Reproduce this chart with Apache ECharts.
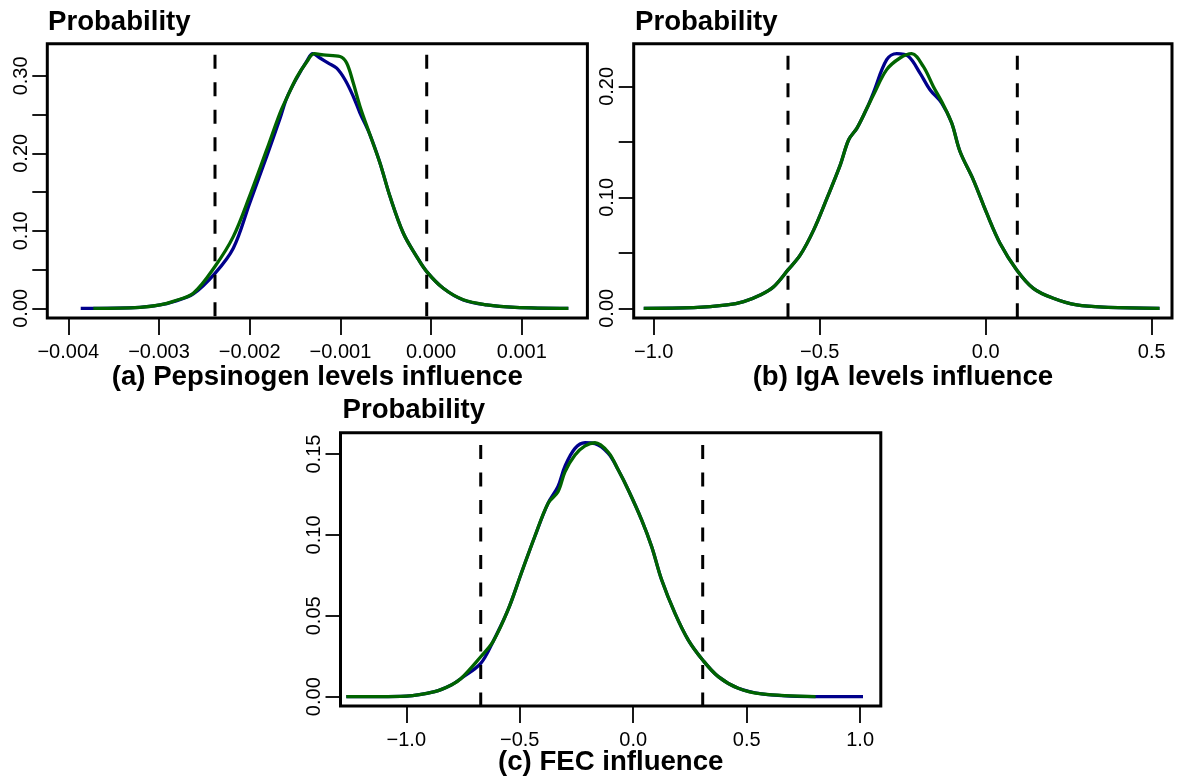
<!DOCTYPE html>
<html><head><meta charset="utf-8">
<script src="https://cdn.jsdelivr.net/npm/echarts@6/dist/echarts.min.js"></script>
<style>html,body{margin:0;padding:0;background:#fff}#c{width:1182px;height:780px}</style>
</head><body><div id="c"></div>
<script>
// ---------- Panel (a): Pepsinogen levels influence ----------
const xTicksA = [-0.004, -0.003, -0.002, -0.001, 0, 0.001];
const yTicksA = [0, 0.05, 0.10, 0.15, 0.20, 0.25, 0.30];
const yLabelsA = [0, 0.10, 0.20, 0.30];
const blueA = [
  [-0.003863, 0], [-0.00321, 0.0013], [-0.002989, 0.0043], [-0.002842, 0.0085],
  [-0.002622, 0.0185], [-0.002383, 0.045], [-0.002181, 0.0775], [-0.002, 0.1357],
  [-0.001813, 0.196], [-0.001666, 0.245], [-0.001592, 0.2713], [-0.001482, 0.297],
  [-0.001372, 0.3186], [-0.001305, 0.3286], [-0.001225, 0.323], [-0.001133, 0.3165],
  [-0.001041, 0.310], [-0.000949, 0.295], [-0.000858, 0.2734], [-0.000784, 0.252],
  [-0.000674, 0.2239], [-0.000563, 0.1873], [-0.000453, 0.1442], [-0.000306, 0.0969],
  [-0.000159, 0.0667], [-0.0000485, 0.0473], [0.000134, 0.0258], [0.000355, 0.0107],
  [0.000613, 0.0043], [0.000925, 0.0013], [0.001513, 0]
];
const greenA = [
  [-0.003724, 0], [-0.00321, 0.0013], [-0.002989, 0.0045], [-0.002842, 0.009],
  [-0.002622, 0.0195], [-0.002383, 0.054], [-0.002181, 0.0925], [-0.002, 0.145],
  [-0.001813, 0.2045], [-0.001666, 0.252], [-0.001592, 0.2713], [-0.001482, 0.298],
  [-0.001372, 0.318], [-0.001288, 0.3286], [-0.001188, 0.327], [-0.001004, 0.325],
  [-0.000931, 0.3165], [-0.000858, 0.2907], [-0.000784, 0.2605], [-0.000674, 0.2239],
  [-0.000563, 0.1873], [-0.000453, 0.1442], [-0.000306, 0.0969], [-0.000159, 0.0667],
  [-0.0000485, 0.0473], [0.000134, 0.0258], [0.000355, 0.011], [0.000613, 0.0045],
  [0.000925, 0.0013], [0.001513, 0]
];
const dashXA = [-0.0023826, -0.0000485];
const dashTopA = 0.3273;

// ---------- Panel (b): IgA levels influence ----------
const xTicksB = [-1.0, -0.5, 0.0, 0.5];
const yTicksB = [0, 0.05, 0.10, 0.15, 0.20];
const yLabelsB = [0, 0.10, 0.20];
const blueB = [
  [-1.030, 0], [-0.8795, 0.0006], [-0.779, 0.003], [-0.729, 0.006], [-0.679, 0.012],
  [-0.6386, 0.0195], [-0.5955, 0.0346], [-0.5584, 0.0481], [-0.518, 0.0707],
  [-0.478, 0.0993], [-0.438, 0.1293], [-0.4127, 0.1519], [-0.3877, 0.1624],
  [-0.3575, 0.1805], [-0.3386, 0.194], [-0.2982, 0.2241], [-0.268, 0.2295],
  [-0.2331, 0.2271], [-0.1979, 0.212], [-0.1678, 0.197], [-0.1325, 0.185],
  [-0.1024, 0.167], [-0.0774, 0.1413], [-0.0373, 0.1158], [0.003, 0.0857],
  [0.043, 0.0587], [0.0934, 0.0346], [0.1434, 0.018], [0.2036, 0.009],
  [0.274, 0.003], [0.3684, 0.0009], [0.5235, 0]
];
const greenB = [
  [-1.030, 0], [-0.8795, 0.0006], [-0.779, 0.003], [-0.729, 0.006], [-0.679, 0.012],
  [-0.6386, 0.0195], [-0.5955, 0.0346], [-0.5584, 0.0481], [-0.518, 0.0707],
  [-0.478, 0.0993], [-0.438, 0.1293], [-0.4127, 0.1519], [-0.3877, 0.1624],
  [-0.3575, 0.1805], [-0.3386, 0.192], [-0.2982, 0.2151], [-0.2581, 0.2256],
  [-0.2229, 0.2295], [-0.188, 0.218], [-0.1578, 0.2], [-0.1277, 0.1835],
  [-0.1024, 0.167], [-0.0774, 0.1413], [-0.0373, 0.1158], [0.003, 0.0857],
  [0.043, 0.0587], [0.0934, 0.0346], [0.1434, 0.018], [0.2036, 0.009],
  [0.274, 0.003], [0.3684, 0.0009], [0.5235, 0]
];
const dashXB = [-0.5955, 0.0952];
const dashTopB = 0.2277;

// ---------- Panel (c): FEC influence ----------
const xTicksC = [-1.0, -0.5, 0.0, 0.5, 1.0];
const yTicksC = [0, 0.05, 0.10, 0.15];
const yLabelsC = [0, 0.05, 0.10, 0.15];
const blueC = [
  [-1.2644, 0], [-1.0, 0.0004], [-0.875, 0.0031], [-0.8017, 0.0072], [-0.7576, 0.0114],
  [-0.672, 0.0206], [-0.6179, 0.034], [-0.5518, 0.0536], [-0.4932, 0.0763],
  [-0.4341, 0.0989], [-0.3755, 0.1195], [-0.3314, 0.130], [-0.3006, 0.1425],
  [-0.2565, 0.1535], [-0.2124, 0.157], [-0.1684, 0.1565], [-0.1097, 0.1504],
  [-0.0657, 0.1401], [-0.0216, 0.1278], [0.0375, 0.1092], [0.0815, 0.0927],
  [0.1256, 0.0721], [0.1842, 0.0515], [0.2428, 0.035], [0.3063, 0.0227],
  [0.375, 0.0124], [0.4632, 0.0052], [0.5663, 0.0017], [0.691, 0.0004], [1.0128, 0]
];
const greenC = [
  [-1.2644, 0], [-1.0, 0.0004], [-0.875, 0.0031], [-0.8017, 0.0072], [-0.7576, 0.0114],
  [-0.672, 0.0247], [-0.6179, 0.034], [-0.5518, 0.0536], [-0.4932, 0.0763],
  [-0.4341, 0.0989], [-0.3755, 0.1195], [-0.3314, 0.1267], [-0.3006, 0.139],
  [-0.2565, 0.1494], [-0.2124, 0.155], [-0.1684, 0.157], [-0.1097, 0.1511],
  [-0.0657, 0.1401], [-0.0216, 0.1278], [0.0375, 0.1092], [0.0815, 0.0927],
  [0.1256, 0.0721], [0.1842, 0.0515], [0.2428, 0.035], [0.3063, 0.0227],
  [0.375, 0.0124], [0.4632, 0.0052], [0.5663, 0.0017], [0.8039, 0]
];
const dashXC = [-0.672, 0.3063];
const dashTopC = 0.1556;

const panelTitles = ['(a) Pepsinogen levels influence', '(b) IgA levels influence', '(c) FEC influence'];
const yName = 'Probability';

// ---------- build ----------
const FONT = '"Liberation Sans", Arial, Helvetica, sans-serif';
const BLUE = '#00008B', GREEN = '#006400';

function fmt(d) {
  return function (v) {
    const s = Math.abs(v).toFixed(d);
    return (v < -1e-12 ? '\u2212' : '') + s;
  };
}

const panels = [
  { grid: { left: 47.3, top: 43.7, width: 540.1, height: 274.3 },
    xr: [-0.0042315, 0.001723], yr: [-0.01253, 0.3415],
    xt: xTicksA, yt: yTicksA, yl: yLabelsA, xd: 3,
    blue: blueA, green: greenA, dx: dashXA, dt: dashTopA },
  { grid: { left: 633.7, top: 43.7, width: 538.3, height: 274.3 },
    xr: [-1.0602, 0.5611], yr: [-0.00875, 0.2385],
    xt: xTicksB, yt: yTicksB, yl: yLabelsB, xd: 1,
    blue: blueB, green: greenB, dx: dashXB, dt: dashTopB },
  { grid: { left: 340.5, top: 432.7, width: 540.3, height: 273.3 },
    xr: [-1.29, 1.0912], yr: [-0.00575, 0.1632],
    xt: xTicksC, yt: yTicksC, yl: yLabelsC, xd: 1,
    blue: blueC, green: greenC, dx: dashXC, dt: dashTopC }
];

const grids = [], xAxes = [], yAxes = [], series = [];
panels.forEach((p, i) => {
  grids.push(Object.assign({ show: true, borderColor: '#000', borderWidth: 3, backgroundColor: 'transparent', containLabel: false }, p.grid));
  xAxes.push({
    type: 'value', gridIndex: i, min: p.xr[0], max: p.xr[1], position: 'bottom',
    axisLine: { show: false, onZero: false },
    splitLine: { show: false },
    axisTick: { show: true, inside: false, length: 17, customValues: p.xt, lineStyle: { color: '#000', width: 1.8 } },
    axisLabel: { show: true, customValues: p.xt, margin: 24, formatter: fmt(p.xd), color: '#000', fontSize: 20, fontFamily: FONT }
  });
  yAxes.push({
    type: 'value', gridIndex: i, min: p.yr[0], max: p.yr[1], position: 'left',
    axisLine: { show: false, onZero: false },
    splitLine: { show: false },
    axisTick: { show: true, inside: false, length: 15, customValues: p.yt, lineStyle: { color: '#000', width: 1.8 } },
    axisLabel: { show: true, customValues: p.yl, rotate: 90, margin: 16, formatter: fmt(2), color: '#000', fontSize: 20, fontFamily: FONT }
  });
  const base = { type: 'line', xAxisIndex: i, yAxisIndex: i, showSymbol: false, symbol: 'none', animation: false, silent: true };
  series.push(Object.assign({}, base, { data: p.blue, smooth: 0.35, lineStyle: { color: BLUE, width: 3.3 }, z: 3 }));
  series.push(Object.assign({}, base, { data: p.green, smooth: 0.35, lineStyle: { color: GREEN, width: 3.3 }, z: 4 }));
  p.dx.forEach(x => {
    series.push(Object.assign({}, base, {
      data: [[x, p.dt], [x, p.yr[0]]],
      lineStyle: { color: '#000', width: 3, type: [14, 13.5], cap: 'butt' }, z: 5
    }));
  });
});

const TF = 'bold 27.6px ' + FONT;
const graphics = [
  { type: 'text', x: 48, y: 22, style: { text: yName, font: TF, fill: '#000', textAlign: 'left', textVerticalAlign: 'middle' } },
  { type: 'text', x: 635, y: 22, style: { text: yName, font: TF, fill: '#000', textAlign: 'left', textVerticalAlign: 'middle' } },
  { type: 'text', x: 342.5, y: 410, style: { text: yName, font: TF, fill: '#000', textAlign: 'left', textVerticalAlign: 'middle' } },
  { type: 'text', x: 317.3, y: 377, style: { text: panelTitles[0], font: TF, fill: '#000', textAlign: 'center', textVerticalAlign: 'middle' } },
  { type: 'text', x: 902.9, y: 377, style: { text: panelTitles[1], font: TF, fill: '#000', textAlign: 'center', textVerticalAlign: 'middle' } },
  { type: 'text', x: 610.7, y: 762, style: { text: panelTitles[2], font: TF, fill: '#000', textAlign: 'center', textVerticalAlign: 'middle' } }
];

const chart = echarts.init(document.getElementById('c'), null, { renderer: 'canvas' });
chart.setOption({
  animation: false,
  backgroundColor: '#fff',
  grid: grids, xAxis: xAxes, yAxis: yAxes, series: series, graphic: graphics
});
</script>
</body></html>
